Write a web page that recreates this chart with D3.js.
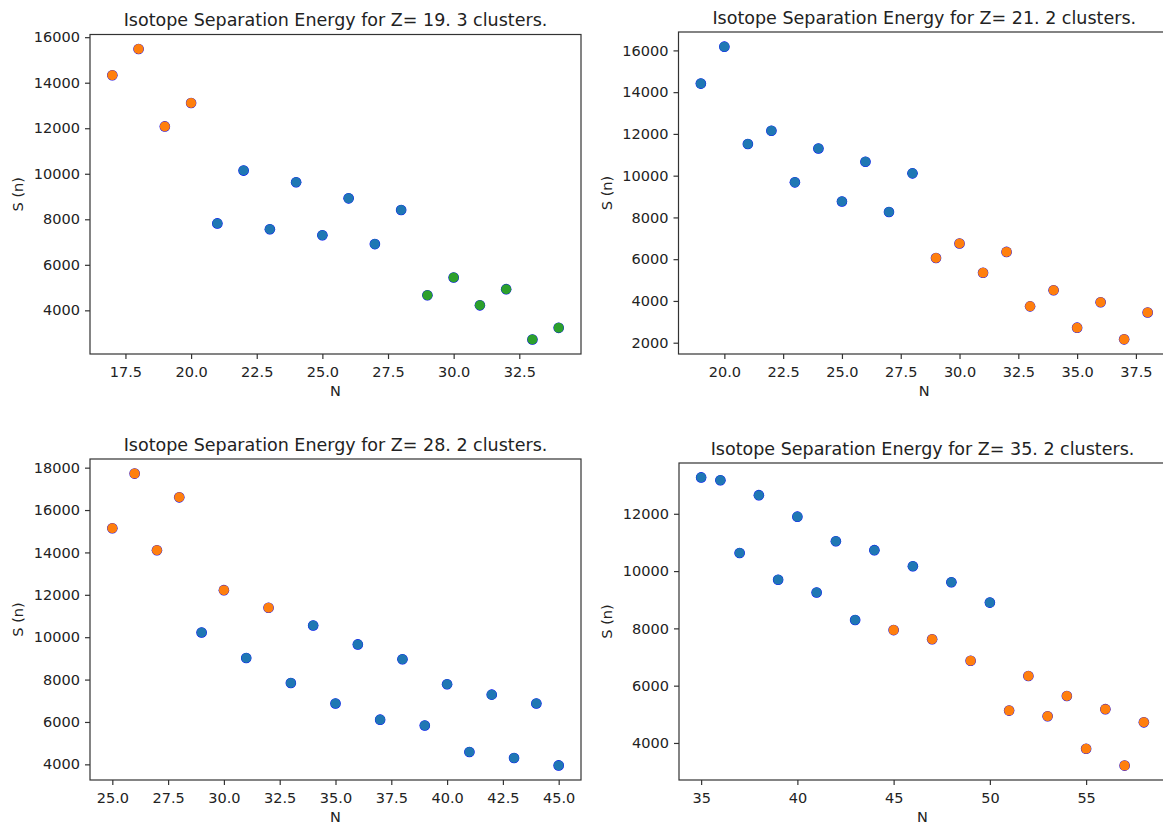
<!DOCTYPE html>
<meta charset="utf-8">
<style type="text/css">
  body { margin: 0; background: #fff; }
  svg { display: block; font-family: "DejaVu Sans", sans-serif; }
  .frame { fill: none; stroke: #333; stroke-width: 1.2; }
  .axis path { display: none; }
  .axis line { stroke: #333; stroke-width: 1.2; }
  .axis text { font-family: "DejaVu Sans", sans-serif; font-size: 14.5px; fill: #222; }
  .title { font-size: 17.5px; fill: #222; text-anchor: middle; }
  .label { font-size: 14.5px; fill: #222; text-anchor: middle; }
</style>
<svg width="1163" height="823"></svg>
<script src="https://d3js.org/d3.v7.min.js"></script>
<script type="text/javascript">
  // Z = 19, 3 clusters
  var z19N = [17,18,19,20,21,22,23,24,25,26,27,28,29,30,31,32,33,34];
  var z19S = [14330,15480,12080,13110,7820,10140,7560,9630,7300,8920,6910,8410,4660,5440,4220,4930,2720,3230];
  var z19C = [1,1,1,1,0,0,0,0,0,0,0,0,2,2,2,2,2,2];
  var z19XTicks = [17.5,20,22.5,25,27.5,30,32.5];
  var z19YTicks = [4000,6000,8000,10000,12000,14000,16000];

  // Z = 21, 2 clusters
  var z21N = [19,20,21,22,23,24,25,26,27,28,29,30,31,32,33,34,35,36,37,38];
  var z21S = [14410,16180,11520,12150,9680,11300,8760,10670,8260,10110,6060,6750,5350,6350,3740,4510,2720,3940,2160,3450];
  var z21C = [0,0,0,0,0,0,0,0,0,0,1,1,1,1,1,1,1,1,1,1];
  var z21XTicks = [20,22.5,25,27.5,30,32.5,35,37.5];
  var z21YTicks = [2000,4000,6000,8000,10000,12000,14000,16000];

  // Z = 28, 2 clusters
  var z28N = [25,26,27,28,29,30,31,32,33,34,35,36,37,38,39,40,41,42,43,44,45];
  var z28S = [15140,17720,14100,16600,10220,12220,9020,11390,7840,10550,6870,9660,6110,8960,5830,7780,4580,7290,4300,6870,3950];
  var z28C = [1,1,1,1,0,1,0,1,0,0,0,0,0,0,0,0,0,0,0,0,0];
  var z28XTicks = [25,27.5,30,32.5,35,37.5,40,42.5,45];
  var z28YTicks = [4000,6000,8000,10000,12000,14000,16000,18000];

  // Z = 35, 2 clusters
  var z35N = [35,36,37,38,39,40,41,42,43,44,45,46,47,48,49,50,51,52,53,54,55,56,57,58];
  var z35S = [13270,13170,10630,12650,9700,11900,9250,11040,8290,10730,7940,10170,7620,9610,6870,8900,5130,6340,4930,5640,3800,5180,3210,4720];
  var z35C = [0,0,0,0,0,0,0,0,0,0,1,0,1,0,1,0,1,1,1,1,1,1,1,1];
  var z35XTicks = [35,40,45,50,55];
  var z35YTicks = [4000,6000,8000,10000,12000];

  var clusterColors = ["#1f77b4", "#ff7f0e", "#2ca02c"];

  var panels = [
    {z: 19, k: 3, N: z19N, S: z19S, C: z19C, xt: z19XTicks, yt: z19YTicks, fmt: ".1f",
     left: 90, right: 581, top: 34.5, bottom: 354},
    {z: 21, k: 2, N: z21N, S: z21S, C: z21C, xt: z21XTicks, yt: z21YTicks, fmt: ".1f",
     left: 678.5, right: 1170, top: 32, bottom: 354},
    {z: 28, k: 2, N: z28N, S: z28S, C: z28C, xt: z28XTicks, yt: z28YTicks, fmt: ".1f",
     left: 90, right: 581, top: 459, bottom: 780},
    {z: 35, k: 2, N: z35N, S: z35S, C: z35C, xt: z35XTicks, yt: z35YTicks, fmt: "d",
     left: 679, right: 1166, top: 463, bottom: 780}
  ];

  var svg = d3.select("svg");

  // matplotlib-like 5% margins
  function padded(values) {
    var ext = d3.extent(values), m = (ext[1] - ext[0]) * 0.05;
    return [ext[0] - m, ext[1] + m];
  }

  panels.forEach(function(p) {
    var x = d3.scaleLinear().domain(padded(p.N)).range([p.left, p.right]);
    var y = d3.scaleLinear().domain(padded(p.S)).range([p.bottom, p.top]);
    var pts = p.N.map(function(n, i) { return {n: n, s: p.S[i], c: p.C[i]}; });

    var g = svg.append("g");

    g.append("g").attr("class", "axis")
      .attr("transform", "translate(0," + p.bottom + ")")
      .call(d3.axisBottom(x).tickValues(p.xt).tickFormat(d3.format(p.fmt)).tickSize(5).tickPadding(5))
      .selectAll("text").attr("dy", "0.93em");

    g.append("g").attr("class", "axis")
      .attr("transform", "translate(" + p.left + ",0)")
      .call(d3.axisLeft(y).tickValues(p.yt).tickFormat(d3.format("d")).tickSize(5).tickPadding(5));

    // points: first all in pure blue, then the cluster colours on top
    g.append("g").selectAll("circle").data(pts).enter().append("circle")
      .attr("cx", function(d) { return x(d.n); })
      .attr("cy", function(d) { return y(d.s); })
      .attr("r", 5.3).attr("fill", "#0000ff");
    g.append("g").selectAll("circle").data(pts).enter().append("circle")
      .attr("cx", function(d) { return x(d.n); })
      .attr("cy", function(d) { return y(d.s); })
      .attr("r", 5.0).attr("fill", function(d) { return clusterColors[d.c]; });

    g.append("rect").attr("class", "frame")
      .attr("x", p.left).attr("y", p.top)
      .attr("width", p.right - p.left).attr("height", p.bottom - p.top);

    g.append("text").attr("class", "title")
      .attr("x", (p.left + p.right) / 2).attr("y", p.top - 8.5)
      .text("Isotope Separation Energy for Z= " + p.z + ". " + p.k + " clusters.");

    g.append("text").attr("class", "label")
      .attr("x", (p.left + p.right) / 2).attr("y", p.bottom + 42)
      .text("N");

    g.append("text").attr("class", "label")
      .attr("transform", "translate(" + (p.left - 72) + "," + ((p.top + p.bottom) / 2) + ")rotate(-90)")
      .attr("dy", "0.35em")
      .text("S (n)");
  });
</script>
